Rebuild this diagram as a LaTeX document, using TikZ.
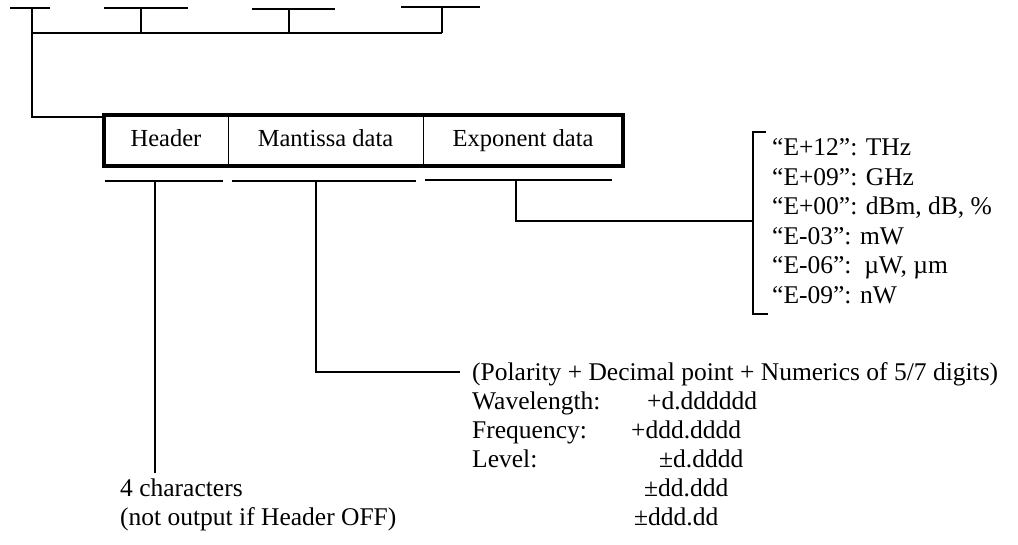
\documentclass[tikz,border=0pt]{standalone}
\usepackage{fontspec}
\setmainfont{Liberation Serif}
\begin{document}
\begin{tikzpicture}[x=1pt,y=-1pt,
  ln/.style={line width=1.3pt},
  boxline/.style={line width=3.8pt},
  cell/.style={inner sep=0pt, minimum height=51pt, text height=17pt, text depth=5pt,
    font=\fontsize{24.5}{29}\selectfont},
  txt/.style={anchor=base west, inner sep=0pt, font=\fontsize{25.5}{29}\selectfont}
]
\useasboundingbox (0,0) rectangle (1018,544);

% register cells
\node[cell, minimum width=124pt] (hdr) at (166,140.5) {Header};
\node[cell, minimum width=195pt] (man) at (325.5,140.5) {Mantissa data};
\node[cell, minimum width=200pt] (exn) at (523,140.5) {Exponent data};
\draw[boxline] (hdr.north west) rectangle (exn.south east);
\draw[ln] (hdr.north east) -- (hdr.south east);
\draw[ln] (man.north east) -- (man.south east);

% top brackets
\coordinate (t1l) at (10,8);   \coordinate (t1r) at (50,8);   \coordinate (t1s) at (32,8);
\coordinate (t2l) at (104,8);  \coordinate (t2r) at (188,8);  \coordinate (t2s) at (141,8);
\coordinate (t3l) at (252,9);  \coordinate (t3r) at (335,9);  \coordinate (t3s) at (289,9);
\coordinate (t4l) at (401,7);  \coordinate (t4r) at (480,7);  \coordinate (t4s) at (442,7);
\coordinate (b1) at (32,33);  \coordinate (b2) at (141,33);
\coordinate (b3) at (289,33); \coordinate (b4) at (442,33);
\coordinate (bend) at (32,117);
\draw[ln] (t1l) -- (t1r); \draw[ln] (t1s) -- (b1);
\draw[ln] (t2l) -- (t2r); \draw[ln] (t2s) -- (b2);
\draw[ln] (t3l) -- (t3r); \draw[ln] (t3s) -- (b3);
\draw[ln] (t4l) -- (t4r); \draw[ln] (t4s) -- (b4);
\draw[ln] (b1) -- (b4);
\draw[ln] (b1) -- (bend) -- (bend -| hdr.west);

% under brackets
\coordinate (u1l) at (105,181); \coordinate (u1r) at (223,181); \coordinate (u1s) at (155,181);
\coordinate (u2l) at (232,181); \coordinate (u2r) at (416,181); \coordinate (u2s) at (316,181);
\coordinate (u3l) at (425,180); \coordinate (u3r) at (612,180); \coordinate (u3s) at (516,180);
\draw[ln] (u1l) -- (u1r);
\draw[ln] (u2l) -- (u2r);
\draw[ln] (u3l) -- (u3r);

% header branch
\coordinate (hend) at (155,473);
\draw[ln] (u1s) -- (hend);
\node[txt] (h1) at (120,496.5) {4 characters};
\node[txt] (h2) at (120,525.5) {(not output if Header OFF)};

% mantissa branch
\coordinate (mc) at (316,372);
\coordinate (mend) at (460,372);
\draw[ln] (u2s) -- (mc) -- (mend);
\node[txt] (m0) at (472,380.5) {(Polarity + Decimal point + Numerics of 5/7 digits)};
\node[txt] (m1) at (472,409.5) {Wavelength:};
\node[txt] (m2) at (472,438.5) {Frequency:};
\node[txt] (m3) at (472,467.5) {Level:};
\node[txt] (v1) at (647,409.5) {+d.dddddd};
\node[txt] (v2) at (631,438.5) {+ddd.dddd};
\node[txt] (v3) at (659,467.5) {±d.dddd};
\node[txt] (v4) at (644,496.5) {±dd.ddd};
\node[txt] (v5) at (634,525.5) {±ddd.dd};

% exponent branch
\coordinate (ec) at (516,221);
\coordinate (ej) at (753,221);
\coordinate (etop) at (753,132); \coordinate (etopr) at (766,132);
\coordinate (ebot) at (753,314); \coordinate (ebotr) at (768,314);
\draw[ln] (u3s) -- (ec) -- (ej);
\draw[ln] (etopr) -- (etop) -- (ebot) -- (ebotr);
\node[txt] (e1) at (772,155.5) {“E+12”: THz};
\node[txt] (e2) at (772,185) {“E+09”: GHz};
\node[txt] (e3) at (772,214.5) {“E+00”: dBm, dB, \%};
\node[txt] (e4) at (772,244) {“E-03”: mW};
\node[txt] (e5) at (772,273.5) {“E-06”:\ \ µW, µm};
\node[txt] (e6) at (772,303) {“E-09”: nW};
\end{tikzpicture}
\end{document}
